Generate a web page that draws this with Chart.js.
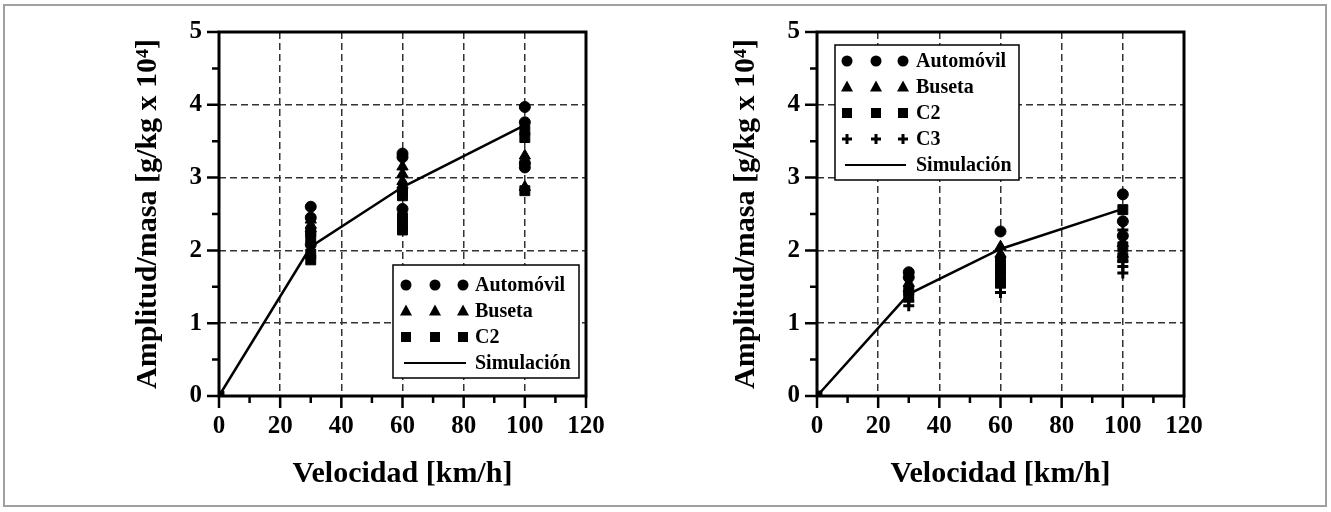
<!DOCTYPE html>
<html lang="es">
<head>
<meta charset="UTF-8">
<title>Amplitud/masa vs velocidad</title>
<script src="https://cdn.jsdelivr.net/npm/chart.js"></script>
<style>
    body { margin: 0; background: #fff; width: 1331px; height: 512px; position: relative; overflow: hidden; }
    #marco { position: absolute; left: 3px; top: 4px; width: 1324px; height: 503px; box-sizing: border-box; border: 2px solid #a0a0a0; }
    canvas { position: absolute; top: 0; }
    #izq { left: 0; }
    #der { left: 598px; }
</style>
</head>
<body>
<div id="marco"></div>
<canvas id="izq" width="640" height="512"></canvas>
<canvas id="der" width="640" height="512"></canvas>

<script>
// ticks de los ejes
const ticksX = [0, 20, 40, 60, 80, 100, 120];
const ticksY = [0, 1, 2, 3, 4, 5];

// grafica izquierda  [velocidad, amplitud/masa]
const izqAutomovil = [[30, 2.6], [30, 2.45], [30, 2.08], [60, 3.33], [60, 3.28], [60, 2.57], [100, 3.97], [100, 3.76], [100, 3.2], [100, 3.14]];
const izqBuseta = [[30, 2.42], [30, 2.35], [30, 2.3], [60, 3.15], [60, 3.05], [60, 2.95], [60, 2.9], [100, 3.3], [100, 3.23], [100, 2.87]];
const izqC2 = [[0, 0], [30, 2.25], [30, 2.18], [30, 1.95], [30, 1.87], [60, 2.8], [60, 2.75], [60, 2.45], [60, 2.35], [60, 2.28], [100, 3.65], [100, 3.55], [100, 2.82]];
const izqSimulacion = [[0, 0], [30, 2.05], [60, 2.87], [100, 3.72]];

// grafica derecha
const derAutomovil = [[30, 1.7], [30, 1.63], [60, 2.26], [100, 2.77], [100, 2.4], [100, 2.2]];
const derBuseta = [[30, 1.55], [30, 1.48], [60, 2.05], [60, 1.95], [100, 2.1], [100, 1.95]];
const derC2 = [[0, 0], [30, 1.45], [30, 1.38], [60, 1.85], [60, 1.75], [60, 1.65], [60, 1.55], [100, 2.56], [100, 2.05], [100, 1.9]];
const derC3 = [[30, 1.3], [30, 1.24], [60, 1.5], [60, 1.42], [100, 2.28], [100, 1.85], [100, 1.78], [100, 1.69]];
const derSimulacion = [[0, 0], [30, 1.4], [60, 2.02], [100, 2.57]];

const FUENTE = '"Liberation Serif", "Times New Roman", serif';

function puntos(arr) {
    return arr.map(([x, y]) => ({ x: x, y: y }));
}

function serie(label, arr, estilo, radio) {
    return {
        label: label,
        data: puntos(arr),
        showLine: false,
        pointStyle: estilo,
        pointRadius: radio,
        pointBackgroundColor: '#000',
        pointBorderColor: '#000',
        pointBorderWidth: estilo === 'cross' ? 3 : 1
    };
}

function simulacion(arr) {
    return {
        label: 'Simulación',
        data: puntos(arr),
        showLine: true,
        borderColor: '#000',
        borderWidth: 2.5,
        pointRadius: 0,
        fill: false
    };
}

// dibuja un marcador de la leyenda
function marca(ctx, estilo, x, y) {
    ctx.fillStyle = '#000';
    ctx.strokeStyle = '#000';
    ctx.beginPath();
    if (estilo === 'circle') {
        ctx.arc(x, y, 5.5, 0, Math.PI * 2);
        ctx.fill();
    } else if (estilo === 'triangle') {
        ctx.moveTo(x, y - 6.5);
        ctx.lineTo(x + 6, y + 4.5);
        ctx.lineTo(x - 6, y + 4.5);
        ctx.closePath();
        ctx.fill();
    } else if (estilo === 'rect') {
        ctx.rect(x - 5, y - 5, 10, 10);
        ctx.fill();
    } else if (estilo === 'cross') {
        ctx.lineWidth = 3;
        ctx.moveTo(x - 5, y); ctx.lineTo(x + 5, y);
        ctx.moveTo(x, y - 5); ctx.lineTo(x, y + 5);
        ctx.stroke();
    }
}

// marco del grafico, ticks menores/mayores y leyenda tipo Origin
const marcoPlugin = {
    id: 'marco',
    afterDraw(chart, args, opts) {
        const { ctx, chartArea: a } = chart;
        const x = chart.scales.x, y = chart.scales.y;
        ctx.save();
        ctx.strokeStyle = '#000';
        ctx.lineWidth = 3;
        ctx.strokeRect(a.left, a.top, a.right - a.left, a.bottom - a.top);

        ctx.lineWidth = 2.5;
        ctx.beginPath();
        for (let v = 0; v <= 120; v += 10) {
            const px = x.getPixelForValue(v);
            ctx.moveTo(px, a.bottom);
            ctx.lineTo(px, a.bottom + (v % 20 === 0 ? 12 : 7));
        }
        for (let v = 0; v <= 5; v += 0.5) {
            const py = y.getPixelForValue(v);
            ctx.moveTo(a.left, py);
            ctx.lineTo(a.left - (v % 1 === 0 ? 12 : 7), py);
        }
        ctx.stroke();

        // leyenda
        const L = opts.leyenda;
        ctx.fillStyle = '#fff';
        ctx.fillRect(L.x, L.y, L.w, L.h);
        ctx.strokeStyle = '#000';
        ctx.lineWidth = 1.5;
        ctx.strokeRect(L.x, L.y, L.w, L.h);
        L.filas.forEach((f, i) => {
            const fy = L.fila0 + i * L.paso;
            if (f.estilo === 'line') {
                ctx.strokeStyle = '#000';
                ctx.lineWidth = 2;
                ctx.beginPath();
                ctx.moveTo(L.marcas[0] - 2, fy);
                ctx.lineTo(L.marcas[2] + 3, fy);
                ctx.stroke();
            } else {
                L.marcas.forEach(mx => marca(ctx, f.estilo, mx, fy));
            }
            ctx.fillStyle = '#000';
            ctx.font = 'bold 20px ' + FUENTE;
            ctx.textBaseline = 'middle';
            ctx.textAlign = 'left';
            ctx.fillText(f.texto, L.textoX, fy + 1);
        });
        ctx.restore();
    }
};

function escalas() {
    const grilla = (lim) => ({
        drawTicks: false,
        lineWidth: 1.5,
        color: (c) => (c.tick && lim.includes(c.tick.value)) ? 'rgba(0,0,0,0)' : '#333'
    });
    return {
        x: {
            type: 'linear',
            min: 0, max: 120,
            afterBuildTicks: (s) => { s.ticks = ticksX.map(v => ({ value: v })); },
            afterFit: (s) => { s.height = 100; },
            ticks: { color: '#000', padding: 16, font: { family: FUENTE, size: 25, weight: 'bold' } },
            grid: grilla([0, 120]),
            border: { display: false, dash: [7, 4] },
            title: {
                display: true,
                text: 'Velocidad [km/h]',
                color: '#000',
                padding: { top: 4, bottom: 4 },
                font: { family: FUENTE, size: 30, weight: 'bold' }
            }
        },
        y: {
            type: 'linear',
            min: 0, max: 5,
            afterBuildTicks: (s) => { s.ticks = ticksY.map(v => ({ value: v })); },
            afterFit: (s) => { s.width = 93; },
            ticks: { color: '#000', padding: 17, font: { family: FUENTE, size: 25, weight: 'bold' } },
            grid: grilla([0, 5]),
            border: { display: false, dash: [7, 4] },
            title: {
                display: true,
                text: 'Amplitud/masa [g/kg x 10⁴]',
                color: '#000',
                padding: { top: 4, bottom: 4 },
                font: { family: FUENTE, size: 30, weight: 'bold' }
            }
        }
    };
}

function grafica(id, datasets, leyenda) {
    return new Chart(document.getElementById(id), {
        type: 'scatter',
        data: { datasets: datasets },
        options: {
            responsive: false,
            maintainAspectRatio: false,
            animation: false,
            layout: { padding: { left: 126, top: 30, right: 54, bottom: 16 } },
            scales: escalas(),
            plugins: {
                legend: { display: false },
                tooltip: { enabled: false },
                marco: { leyenda: leyenda }
            }
        },
        plugins: [marcoPlugin]
    });
}

grafica('izq', [
    simulacion(izqSimulacion),
    serie('Automóvil', izqAutomovil, 'circle', 5.5),
    serie('Buseta', izqBuseta, 'triangle', 6.5),
    serie('C2', izqC2, 'rect', 7)
], {
    x: 393, y: 265, w: 186, h: 113,
    fila0: 285, paso: 26,
    marcas: [406, 435, 463], textoX: 475,
    filas: [
        { texto: 'Automóvil', estilo: 'circle' },
        { texto: 'Buseta', estilo: 'triangle' },
        { texto: 'C2', estilo: 'rect' },
        { texto: 'Simulación', estilo: 'line' }
    ]
});

grafica('der', [
    simulacion(derSimulacion),
    serie('Automóvil', derAutomovil, 'circle', 5.5),
    serie('Buseta', derBuseta, 'triangle', 6.5),
    serie('C2', derC2, 'rect', 7),
    serie('C3', derC3, 'cross', 5.5)
], {
    x: 237, y: 45, w: 184, h: 135,
    fila0: 61, paso: 26,
    marcas: [249, 278, 305], textoX: 318,
    filas: [
        { texto: 'Automóvil', estilo: 'circle' },
        { texto: 'Buseta', estilo: 'triangle' },
        { texto: 'C2', estilo: 'rect' },
        { texto: 'C3', estilo: 'cross' },
        { texto: 'Simulación', estilo: 'line' }
    ]
});
</script>
</body>
</html>
